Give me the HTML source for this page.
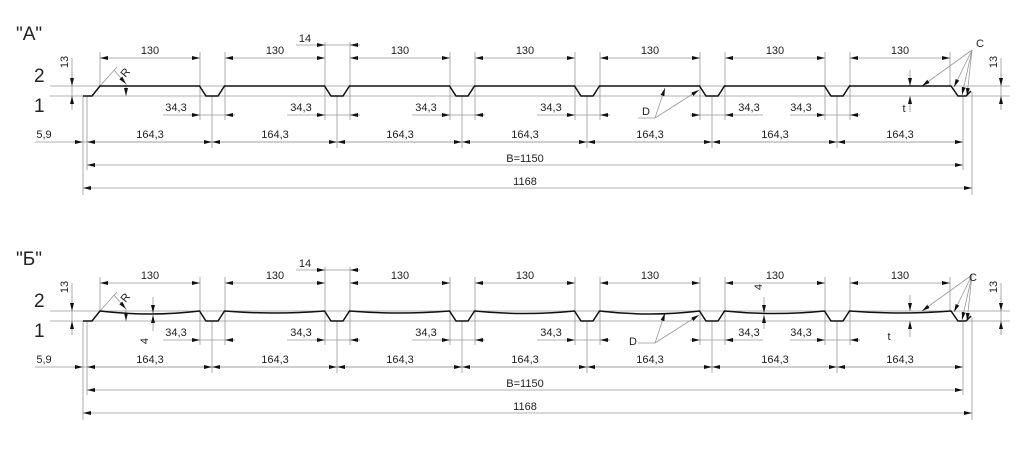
<!DOCTYPE html>
<html><head><meta charset="utf-8"><style>
html,body{margin:0;padding:0;background:#fff;}
svg{display:block;}
text{font-family:"Liberation Sans",sans-serif;fill:#222;}
.t{font-size:11px;text-anchor:middle;}
.th{stroke:#999;stroke-width:0.8;fill:none;}
.pr{stroke:#111;stroke-width:1.5;fill:none;}
.big{font-size:19px;}
</style></head><body>
<svg width="1024" height="449" viewBox="0 0 1024 449" xmlns="http://www.w3.org/2000/svg">
<defs>
<marker id="a" markerWidth="8" markerHeight="4" refX="8" refY="2" orient="auto-start-reverse" markerUnits="userSpaceOnUse">
<path d="M0,0 L8,2 L0,4 z" fill="#111"/></marker>
<g id="dims">
<!-- reference lines -->
<line class="th" x1="50" y1="86" x2="1010" y2="86"/>
<line class="th" x1="50" y1="96" x2="1010" y2="96"/>
<!-- 13 left -->
<line class="th" x1="72" y1="58" x2="72" y2="106"/>
<line class="th" x1="72" y1="72" x2="72" y2="86" marker-end="url(#a)"/>
<line class="th" x1="72" y1="110" x2="72" y2="96" marker-end="url(#a)"/>
<!-- 13 right -->
<line class="th" x1="1001" y1="58" x2="1001" y2="110"/>
<line class="th" x1="1001" y1="72" x2="1001" y2="86" marker-end="url(#a)"/>
<line class="th" x1="1001" y1="110" x2="1001" y2="96" marker-end="url(#a)"/>
<!-- 130 extension lines -->
<g class="th">
<line x1="100" y1="52" x2="100" y2="86"/><line x1="200" y1="52" x2="200" y2="120"/>
<line x1="225" y1="52" x2="225" y2="120"/><line x1="325" y1="42" x2="325" y2="120"/>
<line x1="350" y1="42" x2="350" y2="120"/><line x1="450" y1="52" x2="450" y2="120"/>
<line x1="475" y1="52" x2="475" y2="120"/><line x1="575" y1="52" x2="575" y2="120"/>
<line x1="600" y1="52" x2="600" y2="120"/><line x1="700" y1="52" x2="700" y2="120"/>
<line x1="725" y1="52" x2="725" y2="120"/><line x1="825" y1="52" x2="825" y2="120"/>
<line x1="850" y1="52" x2="850" y2="120"/><line x1="950" y1="52" x2="950" y2="86"/>
</g>
<g class="th" marker-start="url(#a)" marker-end="url(#a)">
<line x1="100" y1="58" x2="200" y2="58"/><line x1="225" y1="58" x2="325" y2="58"/>
<line x1="350" y1="58" x2="450" y2="58"/><line x1="475" y1="58" x2="575" y2="58"/>
<line x1="600" y1="58" x2="700" y2="58"/><line x1="725" y1="58" x2="825" y2="58"/>
<line x1="850" y1="58" x2="950" y2="58"/>
</g>
<!-- 14 -->
<line class="th" x1="296" y1="45" x2="360" y2="45"/>
<line class="th" x1="316" y1="45" x2="325" y2="45" marker-end="url(#a)"/>
<line class="th" x1="359" y1="45" x2="350" y2="45" marker-end="url(#a)"/>
<!-- 34,3 -->
<g class="th">
<line x1="163" y1="115" x2="235" y2="115"/><line x1="287" y1="115" x2="360" y2="115"/>
<line x1="412" y1="115" x2="485" y2="115"/><line x1="537" y1="115" x2="610" y2="115"/>
<line x1="690" y1="115" x2="763" y2="115"/><line x1="790" y1="115" x2="860" y2="115"/>
</g>
<g class="th" marker-end="url(#a)">
<line x1="190" y1="115" x2="200" y2="115"/><line x1="235" y1="115" x2="225" y2="115"/>
<line x1="315" y1="115" x2="325" y2="115"/><line x1="360" y1="115" x2="350" y2="115"/>
<line x1="440" y1="115" x2="450" y2="115"/><line x1="485" y1="115" x2="475" y2="115"/>
<line x1="565" y1="115" x2="575" y2="115"/><line x1="610" y1="115" x2="600" y2="115"/>
<line x1="690" y1="115" x2="700" y2="115"/><line x1="735" y1="115" x2="725" y2="115"/>
<line x1="815" y1="115" x2="825" y2="115"/><line x1="860" y1="115" x2="850" y2="115"/>
</g>
<!-- 164,3 extension lines -->
<g class="th">
<line x1="83" y1="96" x2="83" y2="195"/><line x1="87" y1="96" x2="87" y2="170"/>
<line x1="212" y1="96" x2="212" y2="148"/><line x1="337" y1="96" x2="337" y2="148"/>
<line x1="462" y1="96" x2="462" y2="148"/><line x1="587" y1="96" x2="587" y2="148"/>
<line x1="712" y1="96" x2="712" y2="148"/><line x1="837" y1="96" x2="837" y2="148"/>
<line x1="963" y1="96" x2="963" y2="170"/><line x1="972" y1="92" x2="972" y2="195"/>
<line x1="35" y1="142" x2="963" y2="142"/>
</g>
<g class="th" marker-start="url(#a)" marker-end="url(#a)">
<line x1="87" y1="142" x2="212" y2="142"/><line x1="212" y1="142" x2="337" y2="142"/>
<line x1="337" y1="142" x2="462" y2="142"/><line x1="462" y1="142" x2="587" y2="142"/>
<line x1="587" y1="142" x2="712" y2="142"/><line x1="712" y1="142" x2="837" y2="142"/>
<line x1="837" y1="142" x2="963" y2="142"/>
<line x1="87" y1="165" x2="963" y2="165"/>
<line x1="83" y1="188" x2="972" y2="188"/>
</g>
<line class="th" x1="73" y1="142" x2="83" y2="142" marker-end="url(#a)"/>
<!-- C leaders -->
<g class="th">
<line x1="972" y1="50" x2="922" y2="86" marker-end="url(#a)"/>
<line x1="972" y1="50" x2="954" y2="87" marker-end="url(#a)"/>
<line x1="972" y1="50" x2="962" y2="95" marker-end="url(#a)"/>
<line x1="972" y1="50" x2="967" y2="96" marker-end="url(#a)"/>
</g>
<!-- t -->
<line class="th" x1="910" y1="70" x2="910" y2="86" marker-end="url(#a)"/>
<line class="th" x1="910" y1="112" x2="910" y2="96" marker-end="url(#a)"/>
<!-- D -->
<line class="th" x1="638" y1="118" x2="655" y2="118"/>
<line class="th" x1="655" y1="118" x2="665" y2="88" marker-end="url(#a)"/>
<line class="th" x1="655" y1="118" x2="699" y2="90" marker-end="url(#a)"/>
<!-- R -->
<line class="th" x1="100" y1="86" x2="117" y2="67"/>
<line class="th" x1="114" y1="70" x2="126" y2="84" marker-end="url(#a)"/>
<line class="th" x1="126" y1="84" x2="126" y2="96" marker-end="url(#a)"/>
</g>
</defs>

<!-- SECTION A -->
<use href="#dims"/>
<path class="pr" d="M83,96 L92,96 L100,86 L199.5,86 L206,96 L218,96 L224.5,86 L324.5,86 L331,96 L343,96 L349.5,86 L449.5,86 L456,96 L468,96 L474.5,86 L574.5,86 L581,96 L593,96 L599.5,86 L699.5,86 L706,96 L718,96 L724.5,86 L824.5,86 L831,96 L843,96 L849.5,86 L951,86 L958,96 L966,96 L971,91"/>
<text class="big" x="16" y="40">"А"</text>
<text class="big" x="34" y="82">2</text>
<text class="big" x="34" y="112">1</text>
<text class="t" transform="translate(68,62) rotate(-90)">13</text>
<text class="t" transform="translate(997,62) rotate(-90)">13</text>
<text class="t" x="150" y="54">130</text><text class="t" x="275" y="54">130</text>
<text class="t" x="400" y="54">130</text><text class="t" x="525" y="54">130</text>
<text class="t" x="650" y="54">130</text><text class="t" x="775" y="54">130</text>
<text class="t" x="900" y="54">130</text>
<text class="t" x="305" y="42">14</text>
<text class="t" x="176" y="111">34,3</text><text class="t" x="301" y="111">34,3</text>
<text class="t" x="426" y="111">34,3</text><text class="t" x="551" y="111">34,3</text>
<text class="t" x="749" y="111">34,3</text><text class="t" x="801" y="111">34,3</text>
<text class="t" x="44" y="138">5,9</text>
<text class="t" x="150" y="138">164,3</text><text class="t" x="275" y="138">164,3</text>
<text class="t" x="400" y="138">164,3</text><text class="t" x="525" y="138">164,3</text>
<text class="t" x="650" y="138">164,3</text><text class="t" x="775" y="138">164,3</text>
<text class="t" x="900" y="138">164,3</text>
<text class="t" x="525" y="162">B=1150</text>
<text class="t" x="525" y="185">1168</text>
<text class="t" x="980" y="47">C</text>
<text class="t" x="646" y="115">D</text>
<text class="t" x="904" y="112">t</text>
<text class="t" transform="translate(128,75) rotate(-50)">R</text>

<!-- SECTION B -->
<g transform="translate(0,225)">
<use href="#dims"/>
<path class="pr" d="M83,96 L92,96 L100,86 Q150,92 199.5,86 L206,96 L218,96 L224.5,86 Q275,90 324.5,86 L331,96 L343,96 L349.5,86 Q400,90 449.5,86 L456,96 L468,96 L474.5,86 Q525,91 574.5,86 L581,96 L593,96 L599.5,86 Q650,92 699.5,86 L706,96 L718,96 L724.5,86 Q775,91 824.5,86 L831,96 L843,96 L849.5,86 Q900,90 951,86 L958,96 L966,96 L971,91"/>
<line class="th" x1="153" y1="72" x2="153" y2="88" marker-end="url(#a)"/>
<line class="th" x1="153" y1="106" x2="153" y2="90" marker-end="url(#a)"/>
<line class="th" x1="764" y1="72" x2="764" y2="88" marker-end="url(#a)"/>
<line class="th" x1="764" y1="104" x2="764" y2="90" marker-end="url(#a)"/>
<text class="big" x="16" y="40">"Б"</text>
<text class="big" x="34" y="82">2</text>
<text class="big" x="34" y="112">1</text>
<text class="t" transform="translate(68,62) rotate(-90)">13</text>
<text class="t" transform="translate(997,62) rotate(-90)">13</text>
<text class="t" x="150" y="54">130</text><text class="t" x="275" y="54">130</text>
<text class="t" x="400" y="54">130</text><text class="t" x="525" y="54">130</text>
<text class="t" x="650" y="54">130</text><text class="t" x="775" y="54">130</text>
<text class="t" x="900" y="54">130</text>
<text class="t" x="305" y="42">14</text>
<text class="t" transform="translate(148,116) rotate(-90)">4</text>
<text class="t" transform="translate(762,62) rotate(-90)">4</text>
<text class="t" x="176" y="111">34,3</text><text class="t" x="301" y="111">34,3</text>
<text class="t" x="426" y="111">34,3</text><text class="t" x="551" y="111">34,3</text>
<text class="t" x="749" y="111">34,3</text><text class="t" x="801" y="111">34,3</text>
<text class="t" x="44" y="138">5,9</text>
<text class="t" x="150" y="138">164,3</text><text class="t" x="275" y="138">164,3</text>
<text class="t" x="400" y="138">164,3</text><text class="t" x="525" y="138">164,3</text>
<text class="t" x="650" y="138">164,3</text><text class="t" x="775" y="138">164,3</text>
<text class="t" x="900" y="138">164,3</text>
<text class="t" x="525" y="162">B=1150</text>
<text class="t" x="525" y="185">1168</text>
<text class="t" x="973" y="56">C</text>
<text class="t" x="633" y="120">D</text>
<text class="t" x="889" y="115">t</text>
<text class="t" transform="translate(128,75) rotate(-50)">R</text>
</g>
</svg>
</body></html>
